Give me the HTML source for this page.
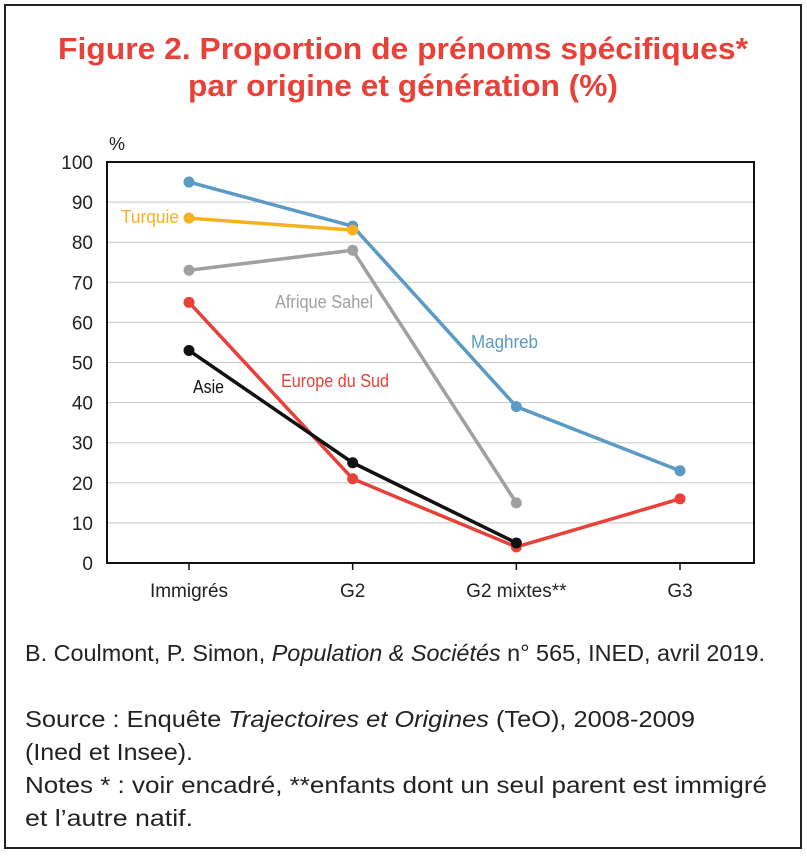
<!DOCTYPE html>
<html><head><meta charset="utf-8"><style>
html,body{margin:0;padding:0;background:#fff;}
svg{display:block;font-family:"Liberation Sans",sans-serif;}
</style></head><body>
<svg id="fig" width="807" height="856" viewBox="0 0 807 856">
<rect x="5" y="5" width="796" height="843" fill="none" stroke="#222" stroke-width="2"/>
<text x="403" y="59" text-anchor="middle" font-size="31" font-weight="bold" fill="#e8413a" textLength="690" lengthAdjust="spacingAndGlyphs">Figure 2. Proportion de prénoms spécifiques*</text>
<text x="403" y="96" text-anchor="middle" font-size="31" font-weight="bold" fill="#e8413a" textLength="430" lengthAdjust="spacingAndGlyphs">par origine et génération (%)</text>
<text x="109" y="150" font-size="18" fill="#222">%</text>
<g id="grid"></g>
<g id="yt"></g>
<g id="xt"></g>
<g id="series"></g>
<rect x="107" y="162" width="647" height="401" fill="none" stroke="#111" stroke-width="2"/>
<text x="121" y="223" font-size="18" fill="#f5b120" textLength="58" lengthAdjust="spacingAndGlyphs">Turquie</text>
<text x="275" y="308" font-size="18" fill="#a0a0a0" textLength="98" lengthAdjust="spacingAndGlyphs">Afrique Sahel</text>
<text x="471" y="348" font-size="18" fill="#5a9ac4" textLength="67" lengthAdjust="spacingAndGlyphs">Maghreb</text>
<text x="281" y="387" font-size="18" fill="#e8413a" textLength="108" lengthAdjust="spacingAndGlyphs">Europe du Sud</text>
<text x="193" y="393" font-size="18" fill="#111" textLength="31" lengthAdjust="spacingAndGlyphs">Asie</text>
<text x="25" y="661" font-size="23" fill="#222" textLength="740" lengthAdjust="spacingAndGlyphs">B. Coulmont, P. Simon, <tspan font-style="italic">Population &amp; Sociétés</tspan> n° 565, INED, avril 2019.</text>
<text x="25" y="727" font-size="23" fill="#222" textLength="670" lengthAdjust="spacingAndGlyphs">Source : Enquête <tspan font-style="italic">Trajectoires et Origines</tspan> (TeO), 2008-2009</text>
<text x="25" y="760" font-size="23" fill="#222" textLength="168" lengthAdjust="spacingAndGlyphs">(Ined et Insee).</text>
<text x="25" y="793" font-size="23" fill="#222" textLength="742" lengthAdjust="spacingAndGlyphs">Notes * : voir encadré, **enfants dont un seul parent est immigré</text>
<text x="25" y="826" font-size="23" fill="#222" textLength="168" lengthAdjust="spacingAndGlyphs">et l’autre natif.</text>
</svg>
<script>
const categories=["Immigrés","G2","G2 mixtes**","G3"];
const yTicks=[0,10,20,30,40,50,60,70,80,90,100];
const maghreb=[95,84,39,23];
const turquie=[86,83,null,null];
const afriqueSahel=[73,78,15,null];
const europeSud=[65,21,4,16];
const asie=[53,25,5,null];
const seriesNames=["maghreb","turquie","afrique-sahel","europe-du-sud","asie"];
const seriesData=[maghreb,turquie,afriqueSahel,europeSud,asie];
const seriesColors=["#5a9ac4","#f5b120","#a0a0a0","#e8413a","#111111"];
const NS="http://www.w3.org/2000/svg";
function xPos(i){return 189+i*(680-189)/(categories.length-1);}
function yPos(v){return 563-v*(563-162)/100;}
const grid=document.getElementById('grid'),yt=document.getElementById('yt'),xt=document.getElementById('xt'),ser=document.getElementById('series');
function mk(t,a){const e=document.createElementNS(NS,t);for(const k in a)e.setAttribute(k,a[k]);return e;}
yTicks.forEach(v=>{
  if(v>0&&v<100){const l=mk('line',{x1:107,x2:754,y1:yPos(v),y2:yPos(v),stroke:'#c8c8c8','stroke-width':1});
  
  
  grid.appendChild(l);}
  const t=mk('text',{x:93,y:yPos(v)+7,'text-anchor':'end','font-size':19,fill:'#222'});
  t.textContent=v;
  
  
  yt.appendChild(t);
});
categories.forEach((c,i)=>{
  const x=xPos(i);
  const tk=mk('line',{x1:x,x2:x,y1:563,y2:570,stroke:'#111','stroke-width':1.5});
  
  
  xt.appendChild(tk);
  const t=mk('text',{x:x,y:597,'text-anchor':'middle','font-size':19,fill:'#222'});
  t.textContent=c;
  
  
  xt.appendChild(t);
});
seriesData.forEach((d,s)=>{
  const pts=[];d.forEach((v,i)=>{if(v!==null)pts.push([xPos(i),yPos(v)]);});
  const pl=mk('polyline',{points:pts.map(p=>p.join(',')).join(' '),fill:'none',stroke:seriesColors[s],'stroke-width':3.5,'stroke-linejoin':'round'});
  
  
  ser.appendChild(pl);
  pts.forEach(p=>{
    const c=mk('circle',{cx:p[0],cy:p[1],r:5.5,fill:seriesColors[s]});
    
    
    ser.appendChild(c);
  });
});
</script>
</body></html>
